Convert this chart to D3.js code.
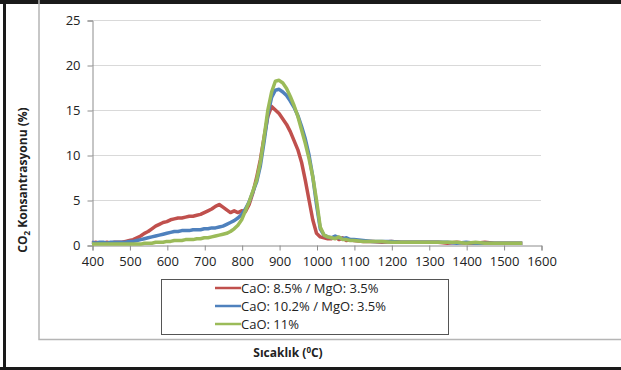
<!DOCTYPE html>
<html><head><meta charset="utf-8">
<script src="https://cdn.jsdelivr.net/npm/d3@7"></script>
<style>body{margin:0;background:#fff}svg{display:block}</style>
</head><body><svg id="c" width="621" height="370"></svg>
<script>
const temps = [400,410,420,430,440,450,460,470,480,490,500,510,520,530,540,550,560,570,580,590,600,610,620,630,640,650,660,670,680,690,700,710,720,730,740,750,760,770,780,790,800,810,820,830,840,850,860,870,880,890,900,910,920,930,940,950,960,970,980,990,1000,1010,1020,1030,1040,1050,1060,1070,1080,1090,1100,1125,1150,1175,1200,1225,1250,1275,1300,1325,1350,1375,1400,1425,1450,1475,1500,1525,1550];
const redVals = [0.2,0.3,0.2,0.2,0.3,0.2,0.3,0.3,0.3,0.4,0.5,0.6,0.8,1.0,1.3,1.5,1.8,2.1,2.3,2.5,2.6,2.8,2.9,3.0,3.0,3.1,3.2,3.2,3.3,3.4,3.6,3.8,4.0,4.3,4.5,4.2,3.9,3.6,3.8,3.6,3.8,3.7,4.5,5.8,7.5,9.5,12.0,14.3,15.4,15.0,14.6,14.0,13.4,12.6,11.6,10.6,9.2,7.2,5.0,2.8,1.3,0.9,0.8,0.7,0.7,0.9,0.6,0.8,0.5,0.6,0.5,0.4,0.4,0.3,0.4,0.3,0.3,0.3,0.3,0.3,0.2,0.3,0.2,0.2,0.3,0.2,0.2,0.2,0.2];
const blueVals = [0.3,0.2,0.3,0.3,0.2,0.3,0.3,0.3,0.3,0.3,0.4,0.4,0.5,0.6,0.7,0.8,0.9,1.0,1.1,1.2,1.3,1.4,1.5,1.5,1.6,1.6,1.6,1.7,1.7,1.7,1.8,1.8,1.9,1.9,2.0,2.1,2.3,2.5,2.7,3.0,3.4,4.0,4.8,5.9,7.0,8.8,11.5,14.5,16.4,17.2,17.3,17.0,16.6,16.0,15.3,14.4,13.2,11.8,10.0,7.6,4.5,1.8,1.1,0.9,0.8,1.0,0.8,0.7,0.8,0.6,0.6,0.5,0.4,0.4,0.4,0.3,0.3,0.3,0.3,0.3,0.3,0.2,0.3,0.2,0.2,0.2,0.2,0.2,0.2];
const greenVals = [0.1,0.1,0.1,0.1,0.1,0.1,0.1,0.1,0.1,0.1,0.1,0.1,0.1,0.1,0.2,0.2,0.2,0.3,0.3,0.3,0.4,0.4,0.5,0.5,0.5,0.6,0.6,0.6,0.7,0.7,0.8,0.8,0.9,1.0,1.1,1.2,1.3,1.5,1.8,2.2,2.8,3.8,4.8,6.0,7.2,9.2,12.0,15.0,17.0,18.2,18.3,18.0,17.4,16.5,15.5,14.3,12.8,11.3,9.6,7.6,5.0,2.0,1.1,0.9,0.8,0.7,0.9,0.6,0.6,0.5,0.5,0.4,0.4,0.4,0.3,0.3,0.3,0.3,0.3,0.3,0.3,0.3,0.2,0.3,0.2,0.2,0.2,0.2,0.2];
const seriesNames = ["CaO: 8.5% / MgO: 3.5%","CaO: 10.2% / MgO: 3.5%","CaO: 11%"];
const seriesColors = ["#C0504D","#4F81BD","#9BBB59"];
const xTicks = [400,500,600,700,800,900,1000,1100,1200,1300,1400,1500,1600];
const yTicks = [0,5,10,15,20,25];

const svg = d3.select("#c");
const font = "'Open Sans', sans-serif";
// frame
svg.append("rect").attr("x",0).attr("y",0).attr("width",621).attr("height",4).attr("fill","#1a1a1a");
svg.append("rect").attr("x",3).attr("y",0).attr("width",3).attr("height",370).attr("fill","#1a1a1a");
svg.append("rect").attr("x",0).attr("y",367).attr("width",621).attr("height",3).attr("fill","#1a1a1a");
svg.append("path").attr("d","M39,0V339.5H621").attr("fill","none").attr("stroke","#b5b5b5").attr("stroke-width",1.5);

const x = d3.scaleLinear().domain([400,1600]).range([92,541]);
const y = d3.scaleLinear().domain([0,25]).range([245,20]);

// gridlines
svg.append("g").selectAll("line").data(yTicks.filter(d=>d>0)).join("line")
  .attr("x1",92).attr("x2",541).attr("y1",d=>y(d)+0.5).attr("y2",d=>y(d)+0.5)
  .attr("stroke","#d9d9d9").attr("stroke-width",1.2);

const yAxis = svg.append("g").attr("transform","translate(92.5,0.5)")
  .call(d3.axisLeft(y).tickValues(yTicks).tickFormat(d3.format("d")).tickSize(5).tickPadding(7));
const xAxis = svg.append("g").attr("transform","translate(0.5,245.5)")
  .call(d3.axisBottom(x).tickValues(xTicks).tickFormat(d3.format("d")).tickSize(5).tickPadding(6));
[yAxis,xAxis].forEach(a=>{
  a.select(".domain").attr("stroke","#8c8c8c");
  a.selectAll(".tick line").attr("stroke","#8c8c8c");
  a.selectAll("text").attr("fill","#222").style("font-family",font).style("font-size","13px");
});

const line = d3.line().x(d=>x(d[0])).y(d=>y(d[1]));
[redVals,blueVals,greenVals].forEach((vals,i)=>{
  svg.append("path").datum(temps.map((t,j)=>[t,vals[j]]))
    .attr("d",line).attr("fill","none").attr("stroke",seriesColors[i])
    .attr("stroke-width",3.5).attr("stroke-linejoin","round");
});

// legend
svg.append("rect").attr("x",161.5).attr("y",279.5).attr("width",287).attr("height",55)
  .attr("fill","#fff").attr("stroke","#555").attr("stroke-width",1);
seriesNames.forEach((n,i)=>{
  const yy = 288 + i*18;
  svg.append("line").attr("x1",215).attr("x2",241).attr("y1",yy).attr("y2",yy)
    .attr("stroke",seriesColors[i]).attr("stroke-width",2.5);
  svg.append("text").attr("x",241).attr("y",yy+4.5).text(n)
    .style("font-family",font).style("font-size","13px").attr("fill","#222");
});

// axis titles
const xt = svg.append("text").attr("x",288).attr("y",357).attr("text-anchor","middle")
  .style("font-family",font).style("font-size","12px").style("font-weight","bold").attr("fill","#222");
xt.append("tspan").text("Sıcaklık (");
xt.append("tspan").text("0").attr("dy",-4).style("font-size","8px");
xt.append("tspan").text("C)").attr("dy",4);

const yt = svg.append("text").attr("transform","translate(27,180) rotate(-90)").attr("text-anchor","middle")
  .style("font-family",font).style("font-size","12px").style("font-weight","bold").attr("fill","#222");
yt.append("tspan").text("CO");
yt.append("tspan").text("2").attr("dy",3).style("font-size","8px");
yt.append("tspan").text(" Konsantrasyonu (%)").attr("dy",-3);
</script></body></html>
